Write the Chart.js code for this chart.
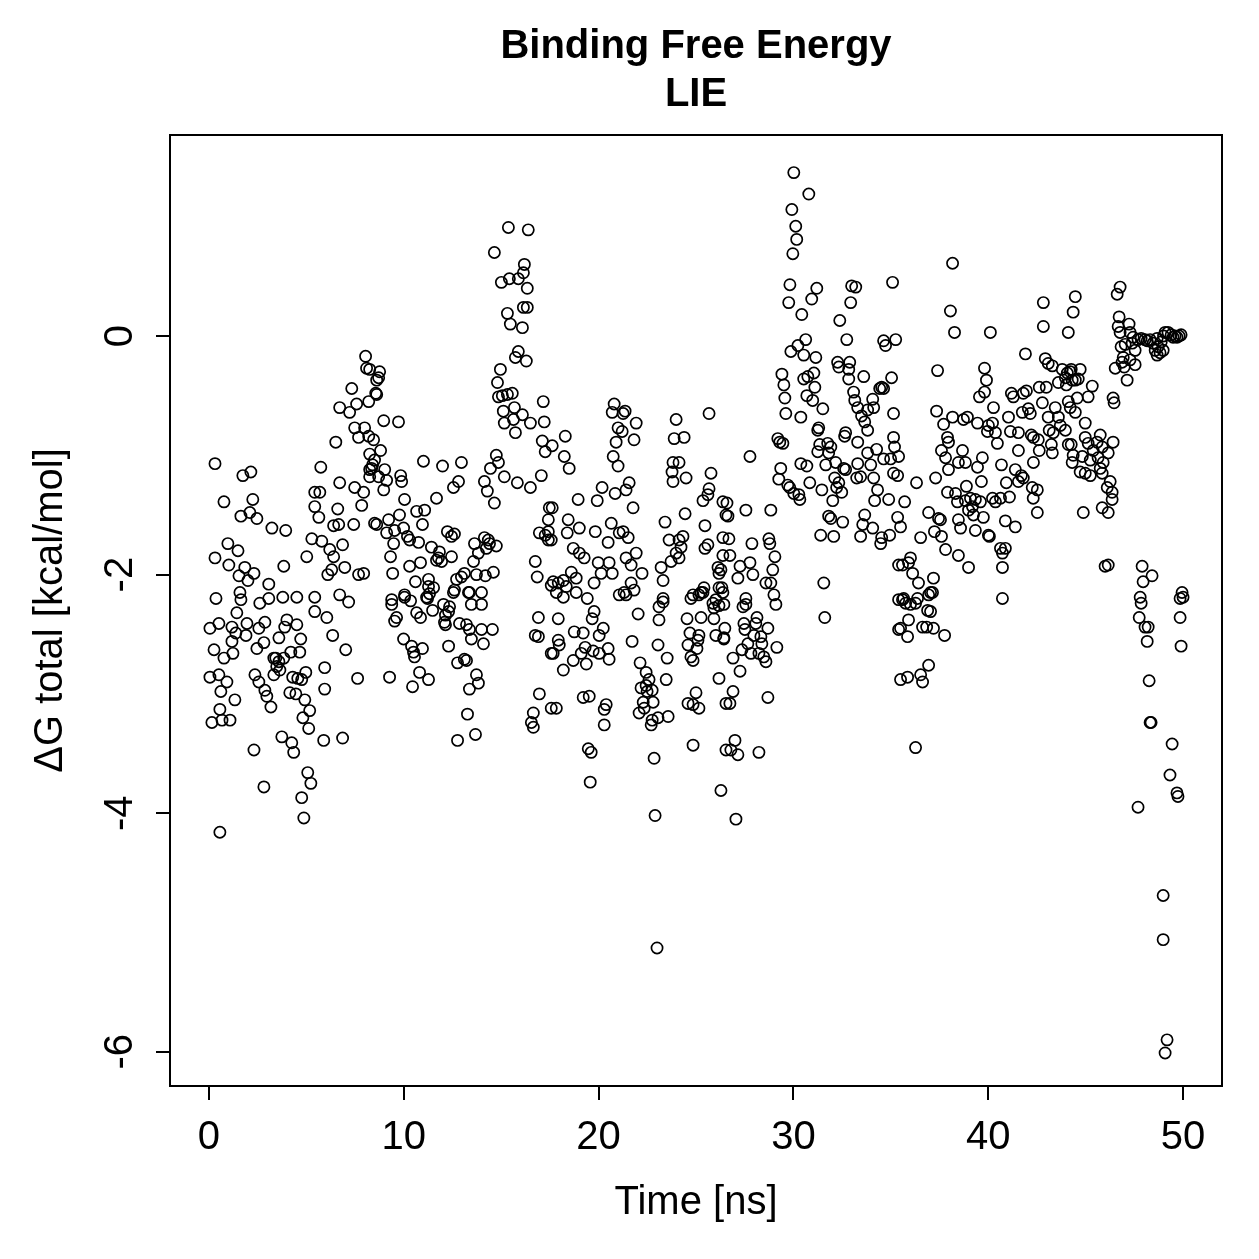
<!DOCTYPE html>
<html>
<head>
<meta charset="utf-8">
<script src="https://cdn.jsdelivr.net/npm/chart.js@4/dist/chart.umd.min.js"></script>
<style>
  html, body { margin: 0; padding: 0; background: #ffffff; }
  canvas { display: block; }
</style>
</head>
<body>
<canvas id="c" width="1259" height="1259"></canvas>
<script>
// ---- tick labels / axis values ----
const xTicks = [0, 10, 20, 30, 40, 50];
const yTicks = [-6, -4, -2, 0];
const titleLines = ['Binding Free Energy', 'LIE'];
const xLabel = 'Time [ns]';
const yLabel = '\u0394G total [kcal/mol]';

// ---- series values: time [ns] and dG total [kcal/mol] ----
const timeA = [8.04,8.09,8.25,8.61,7.33,8.56,6.71,7.58,8.20,7.22,
7.48,7.99,7.68,8.20,6.51,8.25,8.40,8.25,0.31,5.74,
1.74,2.15,6.71,7.48,7.94,8.25,5.43,5.69,0.77,2.25,
5.43,5.64,6.61,7.84,1.64,2.10,2.46,3.23,3.94,6.40,
6.66,7.43,8.50,0.97,1.49,0.31,1.02,1.84,2.31,1.54,
2.00,3.07,3.84,5.02,5.28,5.79,6.20,6.40,6.86,6.97,
6.10,6.30,7.68,7.94];
const dgA = [-0.17,-0.27,-0.28,-0.37,-0.44,-0.48,-0.60,-0.57,-0.55,-0.64,
-0.77,-0.77,-0.85,-0.84,-0.89,-0.99,-1.08,-1.12,-1.07,-1.10,
-1.17,-1.14,-1.23,-1.27,-1.31,-1.18,-1.31,-1.31,-1.39,-1.37,
-1.43,-1.52,-1.45,-1.42,-1.51,-1.48,-1.53,-1.61,-1.63,-1.59,
-1.58,-1.58,-1.57,-1.74,-1.80,-1.86,-1.92,-1.94,-1.99,-2.01,
-2.05,-2.08,-1.93,-1.85,-1.70,-1.72,-1.79,-1.85,-1.75,-1.94,
-2.00,-1.96,-2.00,-1.99];

const timeB = [0.36,1.59,1.64,2.61,3.07,3.79,4.51,5.43,5.43,6.05,
6.71,7.17,0.05,0.51,1.43,1.95,1.18,1.38,1.90,2.56,
2.87,3.59,4.00,3.89,4.51,4.71,6.35,7.02,0.26,0.77,
1.23,1.18,2.46,2.82,3.33,3.59,3.84,4.20,4.66,0.05,
0.51,0.92,0.61,1.33,2.36,2.56,2.87,2.97,3.18,3.33,
4.30,4.56,4.76,4.97,5.94,5.94,7.63,4.15,4.46,4.92,
5.17,4.82,5.12,5.89,6.86,0.56,0.67,0.15,1.08,3.74,
4.25,4.35,2.31,5.07,5.23,2.82,4.76,4.87,0.56,3.43,
3.48,3.64];
const dgB = [-2.20,-2.15,-2.21,-2.24,-2.20,-2.19,-2.19,-2.19,-2.31,-2.36,
-2.17,-2.23,-2.45,-2.41,-2.32,-2.41,-2.44,-2.49,-2.51,-2.45,
-2.40,-2.53,-2.38,-2.44,-2.42,-2.54,-2.51,-2.63,-2.63,-2.70,
-2.66,-2.56,-2.62,-2.57,-2.70,-2.73,-2.70,-2.65,-2.65,-2.86,
-2.84,-2.90,-2.98,-3.05,-2.84,-2.90,-2.97,-3.02,-3.11,-2.84,
-2.86,-2.87,-2.88,-2.82,-2.78,-2.96,-2.87,-2.99,-3.00,-3.05,
-3.14,-3.20,-3.29,-3.39,-3.37,-3.13,-3.22,-3.24,-3.22,-3.36,
-3.41,-3.49,-3.47,-3.66,-3.75,-3.78,-3.87,-4.04,-4.16,-2.70,
-2.77,-2.80];

const timeC = [15.37,16.39,14.65,16.19,16.14,15.01,15.42,15.88,16.34,16.14,
16.34,15.32,15.47,16.09,15.88,15.73,16.29,14.96,14.81,14.86,
15.06,15.32,15.57,15.11,15.68,15.16,15.63,16.09,16.50,15.73,
17.16,17.21,17.11,17.26,8.76,8.71,8.61,8.97,9.73,8.45,
8.81,8.50,8.35,9.02,9.12,8.97,8.71,9.84,9.89,11.01,
11.99,12.96,12.81,12.55,11.68,10.04,11.07,10.66,9.78,9.22,
8.61,10.96,9.53,9.99,9.12,10.19,9.48,10.30,10.76,11.42,
11.83,11.68,11.78,11.94,12.45,12.24,12.60,12.45,9.32,9.43,
10.30,10.86,10.60,11.27,11.27,11.53,10.04,9.38,12.60,13.32,
13.99,12.96,13.11,12.71,13.63,13.83,13.58,14.14,14.34,14.40,
14.75,14.24,13.73,14.19,14.60,14.14,14.29,14.65,14.75,14.86,
14.45,15.16,15.83,16.50,17.06,17.47,17.42,16.96,17.26,17.42,
16.75,16.85,17.57];
const dgC = [0.91,0.89,0.70,0.60,0.53,0.45,0.48,0.48,0.40,0.24,
0.24,0.19,0.10,0.07,-0.13,-0.18,-0.21,-0.28,-0.39,-0.51,
-0.50,-0.49,-0.48,-0.63,-0.60,-0.73,-0.70,-0.66,-0.73,-0.81,
-0.55,-0.72,-0.88,-0.97,-0.30,-0.35,-0.49,-0.71,-0.72,-0.87,
-0.96,-1.04,-1.11,-1.12,-1.21,-1.29,-1.18,-1.17,-1.22,-1.05,
-1.09,-1.06,-1.22,-1.27,-1.36,-1.37,-1.46,-1.47,-1.50,-1.54,
-1.58,-1.58,-1.63,-1.61,-1.65,-1.68,-1.74,-1.71,-1.73,-1.77,
-1.81,-1.88,-1.86,-1.89,-1.85,-1.64,-1.66,-1.68,-1.85,-1.99,
-1.93,-1.90,-2.06,-2.04,-2.10,-2.11,-2.17,-2.21,-2.13,-2.15,
-2.15,-2.02,-1.99,-2.04,-1.74,-1.82,-1.89,-1.69,-1.71,-1.74,
-1.76,-1.78,-2.00,-2.01,-1.98,-1.22,-1.30,-1.40,-1.00,-1.06,
-1.11,-1.18,-1.23,-1.27,-1.17,-1.44,-1.54,-1.65,-1.67,-1.71,
-1.89,-2.02,-2.09];

const timeD = [9.38,10.04,10.35,11.17,11.32,11.22,12.55,13.37,13.47,13.99,
9.63,9.53,10.66,10.86,11.48,12.04,12.35,12.30,12.14,12.09,
12.14,12.86,13.22,13.37,13.47,13.99,14.55,14.09,9.99,10.40,
10.50,10.55,10.96,12.30,12.76,13.11,13.22,9.27,10.81,11.27,
10.45,13.73,13.83,13.37,13.27,12.76,13.68,16.91,16.75,16.91,
16.96,16.65,16.55,16.65,17.57,17.57];
const dgD = [-2.25,-2.19,-2.22,-2.19,-2.16,-2.20,-2.15,-2.15,-2.25,-2.25,
-2.36,-2.39,-2.32,-2.36,-2.30,-2.25,-2.27,-2.31,-2.34,-2.40,
-2.42,-2.41,-2.42,-2.46,-2.54,-2.46,-2.46,-2.58,-2.54,-2.60,
-2.65,-2.69,-2.62,-2.60,-2.74,-2.71,-2.72,-2.86,-2.82,-2.88,
-2.94,-2.84,-2.91,-2.96,-3.17,-3.39,-3.34,-2.36,-2.51,-2.52,
-3.00,-3.16,-3.24,-3.28,-2.66,-3.12];

const timeE = [17.62,18.29,18.24,18.49,20.80,20.70,21.36,21.26,21.93,21.00,
21.21,20.90,21.82,20.75,21.00,23.98,23.88,24.39,25.67,23.82,
24.13,23.77,23.82,24.49,25.77,25.67,25.61,25.36,26.38,26.54,
20.18,19.93,18.95,21.57,21.41,20.85,21.77,17.62,17.42,17.57,
18.44,19.01,18.39,19.83,20.49,20.65,21.06,21.26,21.52,18.70,
19.01,19.26,19.98,20.54,20.13,20.70,21.41,21.93,21.67,22.23,
23.41,24.44,23.62,24.13,24.33,24.23,23.98,24.13,23.72,23.21,
23.31,25.46,25.61,25.46,26.38,26.38,26.13,26.18,17.67,17.93,
18.19,18.60,18.85,18.34,19.77,21.67,21.82,21.31,21.06,24.85,
25.26,25.41,26.18,23.31];
const dgE = [-0.92,-0.84,-1.01,-1.11,-0.57,-0.64,-0.63,-0.65,-0.73,-0.77,
-0.80,-0.89,-0.87,-1.01,-1.09,-0.70,-0.86,-0.85,-0.65,-1.06,
-1.06,-1.14,-1.22,-1.19,-1.15,-1.28,-1.33,-1.38,-1.39,-1.50,
-1.27,-1.38,-1.37,-1.23,-1.29,-1.32,-1.44,-1.44,-1.64,-1.71,
-1.54,-1.61,-1.65,-1.64,-1.73,-1.57,-1.65,-1.64,-1.69,-1.78,
-1.82,-1.86,-1.90,-1.90,-1.99,-1.99,-1.86,-1.82,-1.92,-1.99,
-1.56,-1.49,-1.71,-1.71,-1.68,-1.77,-1.82,-1.86,-1.89,-1.94,
-2.05,-1.59,-1.75,-1.78,-1.69,-1.84,-1.94,-1.99,-2.06,-2.07,
-2.05,-1.98,-2.03,-2.10,-2.07,-2.07,-2.13,-2.15,-2.17,-2.17,
-2.15,-2.11,-2.11,-2.20];

const timeF = [18.19,18.85,17.83,19.42,19.77,19.67,17.93,18.75,19.21,20.03,
20.24,17.93,17.98,17.67,18.70,19.37,18.19,19.11,19.31,19.72,
20.03,20.49,20.54,21.41,22.03,21.72,22.13,22.44,22.18,22.44,
22.59,22.49,22.75,22.29,22.80,22.08,22.34,22.75,22.70,23.05,
23.57,23.31,23.10,23.10,23.05,23.52,23.47,19.21,19.52,20.39,
20.29,20.29,17.83,19.47,19.62,19.57,22.85,22.90,23.00,24.74,
25.15,25.36,25.87,25.92,26.02,26.18,25.92,24.54,25.26,24.69,
25.15,25.10,24.59,25.05,24.74,24.85,26.02,26.43,26.18,24.59,
25.00,24.85,25.15,24.85,26.28,26.54,26.54];
const dgF = [-2.19,-2.15,-2.15,-2.20,-2.31,-2.37,-2.37,-2.48,-2.49,-2.51,
-2.45,-2.55,-2.59,-2.66,-2.72,-2.75,-2.80,-2.66,-2.61,-2.64,
-2.66,-2.62,-2.71,-2.17,-2.33,-2.56,-2.74,-2.82,-2.95,-2.93,
-2.88,-2.98,-2.97,-3.07,-3.07,-3.16,-3.12,-3.22,-3.26,-3.20,
-3.19,-2.23,-2.27,-2.38,-2.59,-2.70,-2.88,-3.03,-3.02,-3.09,
-3.13,-3.26,-3.12,-3.46,-3.49,-3.74,-3.54,-4.02,-5.13,-2.20,
-2.17,-2.15,-2.24,-2.28,-2.21,-2.26,-2.37,-2.37,-2.36,-2.49,
-2.51,-2.55,-2.59,-2.62,-2.69,-2.72,-2.51,-2.53,-2.87,-3.08,
-2.99,-3.09,-3.12,-3.43,-3.81,-3.08,-3.47];

const timeG = [30.02,30.79,29.92,30.12,30.17,29.97,29.82,31.20,29.76,30.94,
30.43,32.99,33.20,32.94,35.09,32.38,32.74,34.63,34.73,35.25,
30.63,30.23,29.87,30.53,31.15,29.41,29.51,29.56,29.61,30.38,
30.53,30.74,31.05,31.10,30.69,30.99,31.51,32.27,32.89,32.33,
32.84,32.84,33.61,35.04,33.09,33.15,33.30,34.43,34.53,34.63,
34.07,34.12,33.81,33.50,33.66,33.81,35.14,29.20,29.46,29.30,
31.30,31.25,32.68,32.63,33.30,35.14,35.19,31.35,31.76,31.92,
31.81,31.25,32.17,31.66,32.58,32.68,33.81,34.27,34.63,34.99,
35.14,27.77,30.38,30.69,29.35,29.25,29.71,29.81,30.02,30.28,
30.33,30.84,32.12,32.22,32.33,32.48,32.02,31.46,33.30,33.97,
33.25,33.45,34.12,34.32,34.17,34.89,31.81,31.92,32.53,31.40,
32.07,33.66,33.56,34.07,33.45,34.53,34.48,34.94,35.35,35.40,
26.59,26.64,27.56,28.84,26.69,27.87,28.74,28.79,29.05,26.74,
27.26,27.77,27.15,27.92,28.94,28.59,28.84,26.28,26.33,27.56,
29.00,31.56,35.40];
const dgG = [1.37,1.19,1.06,0.92,0.81,0.69,0.43,0.40,0.28,0.31,
0.18,0.42,0.41,0.28,0.45,0.13,-0.03,-0.04,-0.08,-0.03,
-0.03,-0.08,-0.13,-0.16,-0.18,-0.32,-0.41,-0.52,-0.65,-0.68,
-0.36,-0.34,-0.31,-0.43,-0.50,-0.54,-0.61,-0.22,-0.22,-0.26,
-0.28,-0.36,-0.34,-0.35,-0.47,-0.54,-0.60,-0.44,-0.43,-0.44,
-0.53,-0.60,-0.62,-0.67,-0.72,-0.79,-0.65,-0.86,-0.90,-0.89,
-0.77,-0.79,-0.81,-0.84,-0.89,-0.85,-0.93,-0.91,-0.90,-0.93,
-0.98,-0.97,-1.06,-1.08,-1.11,-1.12,-0.98,-0.95,-1.03,-1.03,
-1.15,-1.01,-1.07,-1.09,-1.11,-1.20,-1.25,-1.27,-1.32,-1.33,
-1.37,-1.23,-1.19,-1.27,-1.23,-1.31,-1.38,-1.29,-1.07,-1.08,
-1.19,-1.18,-1.19,-1.29,-1.38,-1.37,-1.51,-1.53,-1.56,-1.67,
-1.68,-1.50,-1.58,-1.61,-1.68,-1.69,-1.74,-1.67,-1.52,-1.92,
-1.40,-1.51,-1.46,-1.46,-1.70,-1.74,-1.70,-1.74,-1.85,-1.84,
-1.93,-1.90,-2.03,-2.00,-1.96,-2.07,-2.07,-1.96,-2.11,-2.20,
-2.17,-2.07,-2.21];

const timeH = [26.38,26.43,27.56,27.41,29.10,31.61,26.48,26.43,27.46,27.51,
28.13,28.07,28.69,27.97,28.33,28.38,27.66,27.36,27.82,28.23,
28.48,28.59,26.90,27.26,29.15,26.90,26.74,28.69,27.00,26.79,
27.15,28.23,27.05,35.40];
const dgH = [-2.15,-2.25,-2.25,-2.27,-2.25,-2.36,-2.45,-2.54,-2.41,-2.46,
-2.36,-2.41,-2.45,-2.51,-2.52,-2.58,-2.58,-2.63,-2.66,-2.66,
-2.69,-2.73,-2.70,-2.81,-2.61,-2.98,-3.08,-3.03,-3.39,-3.47,
-3.51,-3.49,-4.05,-2.46];

const timeI = [38.17,38.06,38.27,40.11,42.83,42.83,44.11,44.47,44.36,41.91,
37.40,39.81,39.91,39.81,39.55,42.93,43.08,43.29,43.80,44.06,
44.21,43.96,43.60,44.01,44.47,42.62,42.98,42.78,43.44,44.11,
43.60,43.08,43.70,43.96,43.34,44.11,44.31,43.13,41.19,41.29,
41.80,41.96,42.06,42.16,41.75,41.04,40.27,37.35,38.17,38.73,
38.93,39.45,37.71,40.01,40.22,39.96,40.37,40.47,41.14,41.55,
41.55,42.21,42.32,42.57,42.62,43.24,43.29,35.40,37.91,37.96,
37.60,37.81,38.68,38.47,38.83,37.96,39.45,39.70,40.68,42.32,
41.39,41.70,41.80,41.55,35.35,37.30,36.32,39.65,38.88,40.93,
42.26,42.52,42.31,37.91,38.32,38.42,38.83,39.09,39.34,39.60,
40.22,40.37,40.63,41.09,39.19,38.99,39.24,35.71,35.50,36.94,
37.45,37.55,38.47,38.58,39.34,39.75,40.01,40.06,40.88,41.39,
42.52,36.53,37.24,37.60,37.81,38.47,38.99,40.63,40.88,40.73,
40.73,35.60,36.01,35.91,36.12,36.42,37.19,37.04,35.66,36.37,
40.73];
const dgI = [0.61,0.21,0.03,0.03,0.28,0.08,0.03,0.33,0.20,-0.15,
-0.29,-0.27,-0.37,-0.47,-0.51,-0.19,-0.23,-0.25,-0.28,-0.31,
-0.30,-0.35,-0.39,-0.41,-0.37,-0.43,-0.43,-0.56,-0.60,-0.55,
-0.68,-0.68,-0.75,-0.79,-0.81,-0.91,-1.06,-0.79,-0.48,-0.51,
-0.48,-0.46,-0.61,-0.65,-0.64,-0.68,-0.60,-0.63,-0.68,-0.70,
-0.68,-0.73,-0.74,-0.75,-0.73,-0.80,-0.81,-0.90,-0.80,-0.81,
-0.96,-0.83,-0.85,-0.87,-0.96,-0.91,-0.98,-1.01,-0.85,-0.89,
-0.96,-1.02,-0.96,-1.06,-1.06,-1.12,-1.10,-1.02,-1.08,-1.06,
-1.12,-1.17,-1.19,-1.22,-1.17,-1.19,-1.23,-1.22,-1.26,-1.23,
-1.27,-1.29,-1.36,-1.31,-1.32,-1.39,-1.38,-1.36,-1.37,-1.39,
-1.36,-1.39,-1.36,-1.35,-1.43,-1.46,-1.50,-1.39,-1.60,-1.48,
-1.53,-1.54,-1.54,-1.61,-1.63,-1.52,-1.67,-1.68,-1.55,-1.60,
-1.48,-1.69,-1.64,-1.68,-1.79,-1.84,-1.94,-1.78,-1.78,-1.82,
-1.94,-1.92,-1.86,-1.90,-1.99,-2.07,-2.03,-2.15,-2.20,-2.20,
-2.20];

const timeJ = [35.60,35.76,36.01,36.27,36.94,37.14,36.89,37.04,35.91,35.50,
35.86,36.63,36.84,37.19,37.76,36.94,36.53,36.63,35.86,35.50,
36.27];
const dgJ = [-2.21,-2.24,-2.25,-2.24,-2.17,-2.15,-2.30,-2.31,-2.38,-2.45,
-2.52,-2.44,-2.44,-2.45,-2.51,-2.76,-2.84,-2.90,-2.86,-2.88,
-3.45];

const timeK = [46.77,46.62,46.72,46.67,47.23,46.77,47.28,47.44,47.69,47.39,
47.03,48.05,48.31,48.67,49.08,49.23,49.49,49.69,48.72,48.67,
48.82,48.98,46.82,47.54,46.93,47.28,46.87,47.54,46.52,46.98,
47.13,44.26,44.72,44.31,44.62,45.34,45.13,44.57,44.21,44.47,
46.41,46.46,44.98,44.98,45.13,45.75,45.59,45.39,45.85,46.41,
46.16,44.26,44.36,44.83,45.24,45.64,45.90,44.72,44.98,45.24,
45.75,45.85,46.26,46.11,46.36,46.36,45.85,46.16,44.88,46.00,
46.16,47.90,48.41,47.95,47.80,49.95,49.85,47.85,47.75,48.05,
48.21,48.16,50.00,49.85,49.90,48.26,48.31,48.36,49.44,49.33,
49.69,49.74,47.69,48.98,48.98,49.18,49.08,48.88,49.39,49.59,
49.80,49.90,48.47,48.57,48.16,47.85,49.00];
const dgK = [0.41,0.35,0.16,0.08,0.10,0.03,0.03,-0.01,-0.03,-0.06,
-0.07,-0.03,-0.03,-0.02,0.03,0.03,-0.01,-0.01,-0.09,-0.16,
-0.14,-0.12,-0.09,-0.12,-0.18,-0.20,-0.22,-0.24,-0.27,-0.26,
-0.37,-0.28,-0.28,-0.37,-0.36,-0.42,-0.51,-0.52,-0.60,-0.64,
-0.52,-0.56,-0.73,-0.85,-0.90,-0.83,-0.89,-0.96,-0.93,-0.89,
-0.98,-0.91,-1.00,-1.01,-1.04,-1.02,-1.06,-1.14,-1.15,-1.17,
-1.11,-1.15,-1.22,-1.27,-1.31,-1.37,-1.44,-1.48,-1.48,-1.93,
-1.92,-1.93,-2.01,-2.06,-2.19,-2.15,-2.20,-2.24,-2.36,-2.44,
-2.44,-2.56,-2.19,-2.36,-2.60,-2.89,-3.24,-3.24,-3.42,-3.68,
-3.83,-3.86,-3.95,-4.69,-5.06,-5.90,-6.01,-0.05,0.01,0.00,
0.00,0.01,-0.06,-0.12,-0.04,-0.02,0.00];

// ---- assemble points ----
const timeParts = [timeA, timeB, timeC, timeD, timeE, timeF, timeG, timeH, timeI, timeJ, timeK];
const dgParts = [dgA, dgB, dgC, dgD, dgE, dgF, dgG, dgH, dgI, dgJ, dgK];
const points = [];
timeParts.forEach((ts, k) => {
  const gs = dgParts[k];
  const n = Math.min(ts.length, gs.length);
  for (let i = 0; i < n; i++) points.push({ x: ts[i], y: gs[i] });
});

const FONT = '"Liberation Sans", Arial, Helvetica, sans-serif';

const boxPlugin = {
  id: 'rBox',
  afterDraw(chart) {
    const { ctx, chartArea: a } = chart;
    ctx.save();
    ctx.strokeStyle = '#000';
    ctx.lineWidth = 2;
    ctx.strokeRect(a.left, a.top, a.right - a.left, a.bottom - a.top);
    ctx.restore();
  }
};

new Chart(document.getElementById('c'), {
  type: 'scatter',
  data: {
    datasets: [{
      data: points,
      pointStyle: 'circle',
      pointRadius: 5.6,
      pointBorderWidth: 1.7,
      pointBackgroundColor: 'rgba(0,0,0,0)',
      pointBorderColor: '#000'
    }]
  },
  options: {
    responsive: false,
    animation: false,
    devicePixelRatio: 1,
    events: [],
    layout: { padding: { left: 0, right: 37, top: 0, bottom: 0 } },
    font: { family: FONT },
    plugins: {
      legend: { display: false },
      tooltip: { enabled: false },
      title: {
        display: true,
        text: titleLines,
        color: '#000',
        fullSize: false,
        font: { family: FONT, size: 40, weight: 'bold', lineHeight: 1.2 },
        padding: { top: 23, bottom: 16 }
      }
    },
    scales: {
      x: {
        type: 'linear',
        min: -2,
        max: 52,
        afterBuildTicks: (s) => { s.ticks = xTicks.map(v => ({ value: v })); },
        afterFit: (s) => { s.height = 173; },
        grid: { display: true, drawOnChartArea: false, drawTicks: true, tickLength: 14, color: '#000', lineWidth: 2 },
        border: { display: true, color: '#000', width: 2 },
        ticks: { color: '#000', font: { family: FONT, size: 40 }, padding: 14, maxRotation: 0, minRotation: 0 },
        title: { display: true, text: xLabel, color: '#000', font: { family: FONT, size: 40, lineHeight: 1.2 }, padding: { top: 0, bottom: 32 } }
      },
      y: {
        type: 'linear',
        min: -6.287,
        max: 1.685,
        afterBuildTicks: (s) => { s.ticks = yTicks.map(v => ({ value: v })); },
        afterFit: (s) => { s.width = 170; },
        grid: { display: true, drawOnChartArea: false, drawTicks: true, tickLength: 14, color: '#000', lineWidth: 2 },
        border: { display: true, color: '#000', width: 2 },
        ticks: { color: '#000', font: { family: FONT, size: 40 }, padding: 17, minRotation: 90, maxRotation: 90, crossAlign: 'center' },
        title: { display: true, text: yLabel, color: '#000', font: { family: FONT, size: 40, lineHeight: 1.2 }, padding: { top: 27, bottom: 0 } }
      }
    }
  },
  plugins: [boxPlugin]
});
</script>
</body>
</html>
